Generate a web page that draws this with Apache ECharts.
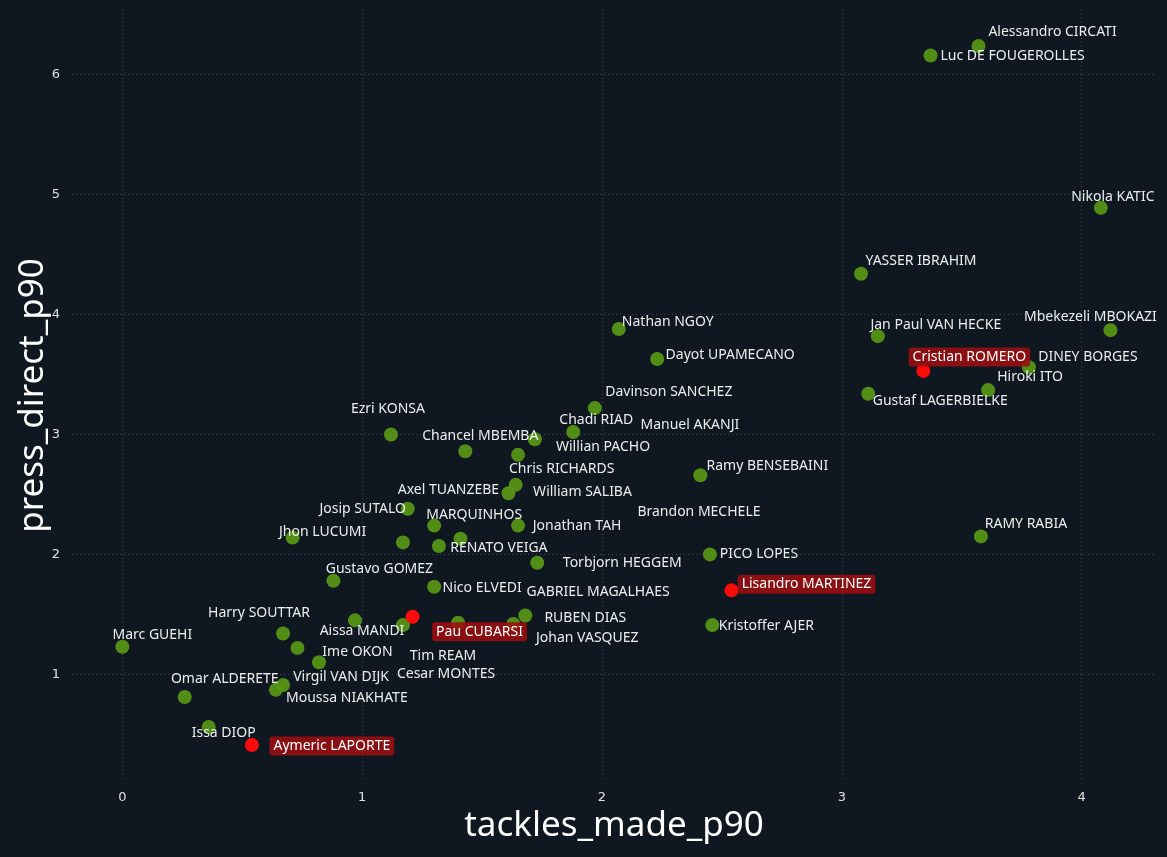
<!DOCTYPE html>
<html>
<head>
<meta charset="utf-8">
<script src="https://cdn.jsdelivr.net/npm/echarts@6/dist/echarts.min.js"></script>
<style>
html, body { margin: 0; padding: 0; background: #0f1821; }
#scatter1 { width: 1167px; height: 857px; }
</style>
</head>
<body>
<div id="scatter1"></div>
<script>
// players, x = tackles_made_p90, y = press_direct_p90
var players = ['Alessandro CIRCATI', 'Luc DE FOUGEROLLES', 'Nikola KATIC', 'YASSER IBRAHIM', 'Mbekezeli MBOKAZI',
    'Jan Paul VAN HECKE', 'Cristian ROMERO', 'DINEY BORGES', 'Hiroki ITO', 'Gustaf LAGERBIELKE', 'RAMY RABIA',
    'Nathan NGOY', 'Dayot UPAMECANO', 'Davinson SANCHEZ', 'Ezri KONSA', 'Chadi RIAD', 'Manuel AKANJI',
    'Willian PACHO', 'Chancel MBEMBA', 'Chris RICHARDS', 'Axel TUANZEBE', 'Ramy BENSEBAINI', 'Josip SUTALO',
    'MARQUINHOS', 'Jonathan TAH', 'RENATO VEIGA', 'William SALIBA', 'Brandon MECHELE', 'Jhon LUCUMI',
    'Torbjorn HEGGEM', 'PICO LOPES', 'Gustavo GOMEZ', 'Nico ELVEDI', 'Lisandro MARTINEZ', 'GABRIEL MAGALHAES',
    'RUBEN DIAS', 'Johan VASQUEZ', 'Kristoffer AJER', 'Pau CUBARSI', 'Aissa MANDI', 'Harry SOUTTAR',
    'Marc GUEHI', 'Tim REAM', 'Ime OKON', 'Cesar MONTES', 'Virgil VAN DIJK', 'Moussa NIAKHATE',
    'Omar ALDERETE', 'Issa DIOP', 'Aymeric LAPORTE'];

var tackles = [3.57, 3.37, 4.08, 3.08, 4.12, 3.15, 3.34, 3.78, 3.61, 3.11, 3.58,
    2.07, 2.23, 1.97, 1.12, 1.88, 1.72, 1.65, 1.43, 1.64, 1.61, 2.41, 1.19,
    1.30, 1.65, 1.32, 1.41, 1.17, 0.71, 1.73, 2.45, 0.88, 1.30, 2.54, 1.40,
    1.68, 1.63, 2.46, 1.21, 0.97, 0.67, 0.00, 1.17, 0.73, 0.82, 0.67, 0.64,
    0.26, 0.36, 0.54];

var press = [6.24, 6.16, 4.89, 4.34, 3.87, 3.82, 3.53, 3.56, 3.37, 3.34, 2.15,
    3.88, 3.63, 3.22, 3.00, 3.02, 2.96, 2.83, 2.86, 2.58, 2.51, 2.66, 2.38,
    2.24, 2.24, 2.07, 2.13, 2.10, 2.14, 1.93, 2.00, 1.78, 1.73, 1.70, 1.43,
    1.49, 1.42, 1.41, 1.48, 1.45, 1.34, 1.23, 1.41, 1.22, 1.10, 0.91, 0.87,
    0.81, 0.56, 0.41];

var highlighted = ['Cristian ROMERO', 'Lisandro MARTINEZ', 'Pau CUBARSI', 'Aymeric LAPORTE'];

// where each name sits relative to its dot (px), picked to follow the original
var labelShift = {
    'Alessandro CIRCATI': [74, -14], 'Luc DE FOUGEROLLES': [82, 0], 'Nikola KATIC': [12, -11],
    'YASSER IBRAHIM': [60, -13], 'Mbekezeli MBOKAZI': [-20, -13], 'Jan Paul VAN HECKE': [58, -11],
    'Cristian ROMERO': [46, -14], 'DINEY BORGES': [59, -10], 'Hiroki ITO': [42, -13],
    'Gustaf LAGERBIELKE': [72, 7], 'RAMY RABIA': [45, -12], 'Nathan NGOY': [49, -7],
    'Dayot UPAMECANO': [73, -4], 'Davinson SANCHEZ': [74, -16], 'Ezri KONSA': [-3, -25],
    'Chadi RIAD': [23, -12], 'Manuel AKANJI': [155, -14], 'Willian PACHO': [85, -8],
    'Chancel MBEMBA': [15, -15], 'Chris RICHARDS': [46, -16], 'Axel TUANZEBE': [-60, -3],
    'Ramy BENSEBAINI': [67, -9], 'Josip SUTALO': [-45, 0], 'MARQUINHOS': [40, -11],
    'Jonathan TAH': [59, 0], 'RENATO VEIGA': [60, 2], 'William SALIBA': [122, -47],
    'Brandon MECHELE': [296, -30], 'Jhon LUCUMI': [30, -6], 'Torbjorn HEGGEM': [85, 0],
    'PICO LOPES': [49, 0], 'Gustavo GOMEZ': [46, -12], 'Nico ELVEDI': [48, 1],
    'Lisandro MARTINEZ': [75, -6], 'GABRIEL MAGALHAES': [140, -31], 'RUBEN DIAS': [60, 2],
    'Johan VASQUEZ': [74, 14], 'Kristoffer AJER': [54, 1], 'Pau CUBARSI': [67, 15],
    'Aissa MANDI': [7, 11], 'Harry SOUTTAR': [-24, -20], 'Marc GUEHI': [30, -12],
    'Tim REAM': [40, 31], 'Ime OKON': [60, 4], 'Cesar MONTES': [127, 12],
    'Virgil VAN DIJK': [58, -8], 'Moussa NIAKHATE': [71, 8], 'Omar ALDERETE': [40, -18],
    'Issa DIOP': [15, 6], 'Aymeric LAPORTE': [80, 1]
};

(function(){

var scatter1 = echarts.init(document.getElementById("scatter1"));

var normalData = [], redData = [];
for (var i = 0; i < players.length; i++) {
    var item = {
        name: players[i],
        value: [tackles[i], press[i]],
        label: { offset: labelShift[players[i]] || [0, 0] }
    };
    if (highlighted.indexOf(players[i]) >= 0) {
        redData.push(item);
    } else {
        normalData.push(item);
    }
}

var gridLine = {
    show: true,
    showMinLine: false,
    showMaxLine: false,
    lineStyle: { color: '#3e4956', type: [1, 3], width: 1 }
};

option = {
    backgroundColor: '#0f1821',
    animation: false,
    grid: {
        left: 72,
        right: 11,
        top: 10,
        bottom: 76,
        outerBoundsMode: 'none',
        containLabel: false
    },
    xAxis: {
        type: 'value',
        min: -0.21,
        max: 4.31,
        minInterval: 1,
        maxInterval: 1,
        name: 'tackles_made_p90',
        nameLocation: 'middle',
        nameGap: 27,
        nameTextStyle: { color: '#ffffff', fontSize: 35, fontFamily: 'Noto Sans' },
        axisLine: { show: false },
        axisTick: { show: false },
        axisLabel: {
            color: '#e0e0e0', fontSize: 13, fontFamily: 'DejaVu Sans', margin: 10,
            showMinLabel: false, showMaxLabel: false
        },
        splitLine: gridLine
    },
    yAxis: {
        type: 'value',
        min: 0.11,
        max: 6.54,
        minInterval: 1,
        maxInterval: 1,
        name: 'press_direct_p90',
        nameLocation: 'middle',
        nameGap: 21,
        nameMoveOverlap: false,
        nameTextStyle: { color: '#ffffff', fontSize: 35, fontFamily: 'Noto Sans' },
        axisLine: { show: false },
        axisTick: { show: false },
        axisLabel: {
            color: '#e0e0e0', fontSize: 13, fontFamily: 'DejaVu Sans', margin: 12,
            showMinLabel: false, showMaxLabel: false
        },
        splitLine: gridLine
    },
    series: [
        {
            name: 'others',
            type: 'scatter',
            symbolSize: 14,
            itemStyle: { color: 'rgb(88, 152, 22)', opacity: 0.92 },
            label: {
                show: true,
                position: 'inside',
                formatter: '{b}',
                color: '#ffffff',
                fontSize: 14,
                fontFamily: 'Noto Sans'
            },
            data: normalData
        },
        {
            name: 'highlighted',
            type: 'scatter',
            symbolSize: 14,
            z: 3,
            itemStyle: { color: '#ff0a0a', opacity: 1 },
            label: {
                show: true,
                position: 'inside',
                formatter: '{b}',
                color: '#ffffff',
                fontSize: 14,
                fontFamily: 'Noto Sans',
                backgroundColor: 'rgba(155, 14, 16, 0.88)',
                padding: [3, 4, 2, 4],
                borderRadius: 3
            },
            data: redData
        }
    ]
};

scatter1.setOption(option);
})();
</script>
</body>
</html>
